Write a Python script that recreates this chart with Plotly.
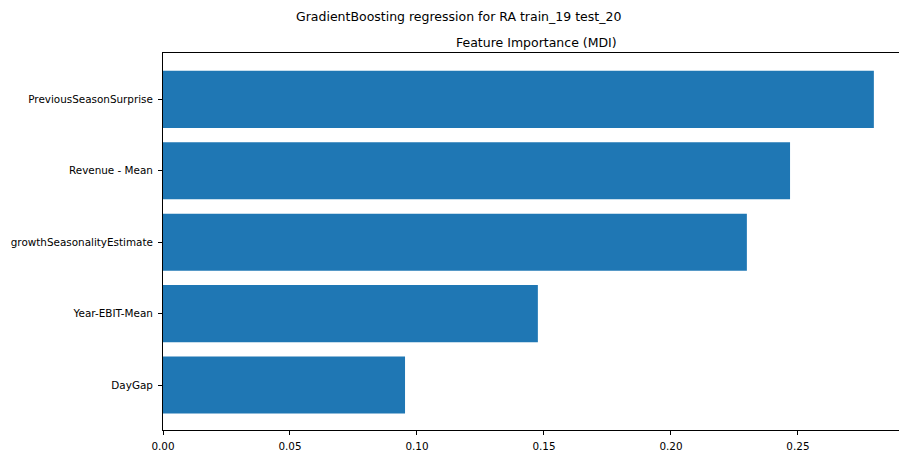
import plotly.graph_objects as go

features = ["DayGap", "Year-EBIT-Mean", "growthSeasonalityEstimate", "Revenue - Mean", "PreviousSeasonSurprise"]
importances = [0.0953, 0.1476, 0.2299, 0.2469, 0.2799]
x_ticks = [0.0, 0.05, 0.10, 0.15, 0.20, 0.25]
x_tick_labels = ["0.00", "0.05", "0.10", "0.15", "0.20", "0.25"]
suptitle = "GradientBoosting regression for RA train_19 test_20"
axtitle = "Feature Importance (MDI)"

W, H = 899, 452
L, R, T, B = 163, 0, 53, 19

fig = go.Figure(go.Bar(
    x=importances, y=list(range(len(features))), orientation="h",
    width=0.8, marker=dict(color="#1f77b4", line=dict(width=0)),
))
font = dict(family="DejaVu Sans", size=10.4, color="black")
tfont = dict(family="DejaVu Sans", size=12.5, color="black")
plot_w = W - L - R
plot_h = H - T - B
fig.update_layout(
    width=W, height=H, margin=dict(l=L, r=R, t=T, b=B, pad=0),
    paper_bgcolor="white", plot_bgcolor="white", showlegend=False,
    font=font,
    xaxis=dict(range=[0, 0.2898], tickvals=x_ticks, ticktext=x_tick_labels,
               showgrid=False, zeroline=False, showline=True, linecolor="black",
               linewidth=1, mirror=True, ticks="outside", ticklen=4, tickwidth=1,
               tickcolor="black", ticklabelstandoff=3, tickfont=font),
    yaxis=dict(range=[-0.63, 4.65], tickvals=list(range(len(features))), ticktext=features,
               showgrid=False, zeroline=False, showline=True, linecolor="black",
               linewidth=1, ticks="outside", ticklen=4, tickwidth=1,
               tickcolor="black", ticklabelstandoff=3, tickfont=font),
    annotations=[
        dict(text=suptitle, x=(458.5 - L) / plot_w, y=(H - B - 16) / plot_h,
             xref="paper", yref="paper", xanchor="center", yanchor="middle",
             showarrow=False, font=tfont),
        dict(text=axtitle, x=(536 - L) / plot_w, y=(H - B - 42) / plot_h,
             xref="paper", yref="paper", xanchor="center", yanchor="middle",
             showarrow=False, font=tfont),
    ],
)
fig.write_html("out.html")
